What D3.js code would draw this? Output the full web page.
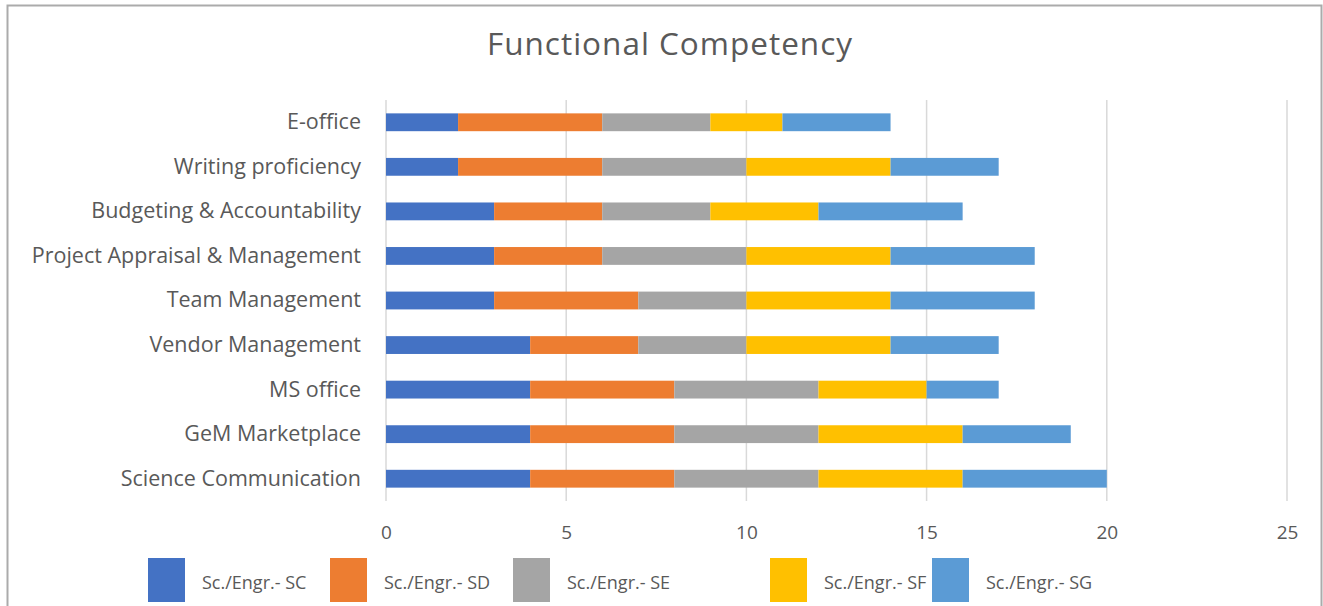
<!DOCTYPE html>
<html>
<head>
<meta charset="utf-8">
<script src="https://cdn.jsdelivr.net/npm/d3@7"></script>
<style>
  html, body { margin: 0; padding: 0; background: #fff; }
  svg { display: block; }
  text { font-family: "Open Sans", "Liberation Sans", sans-serif; }
</style>
</head>
<body>
<svg id="chart" width="1323" height="606"></svg>
<script>
const categories = [
  "E-office",
  "Writing proficiency",
  "Budgeting & Accountability",
  "Project Appraisal & Management",
  "Team Management",
  "Vendor Management",
  "MS office",
  "GeM Marketplace",
  "Science Communication"
];
const seriesNames = ["Sc./Engr.- SC", "Sc./Engr.- SD", "Sc./Engr.- SE", "Sc./Engr.- SF", "Sc./Engr.- SG"];
const SC = [2, 2, 3, 3, 3, 4, 4, 4, 4];
const SD = [4, 4, 3, 3, 4, 3, 4, 4, 4];
const SE = [3, 4, 3, 4, 3, 3, 4, 4, 4];
const SF = [2, 4, 3, 4, 4, 4, 3, 4, 4];
const SG = [3, 3, 4, 4, 4, 3, 2, 3, 4];
const xTicks = [0, 5, 10, 15, 20, 25];
const colors = ["#4472C4", "#ED7D31", "#A5A5A5", "#FFC000", "#5B9BD5"];
const title = "Functional Competency";

const seriesValues = [SC, SD, SE, SF, SG];
const rows = categories.map((c, i) => {
  const r = { category: c };
  seriesNames.forEach((s, j) => r[s] = seriesValues[j][i]);
  return r;
});

const svg = d3.select("#chart");

// outer border
svg.append("rect")
  .attr("x", 7.5).attr("y", 5.5)
  .attr("width", 1314).attr("height", 620)
  .attr("fill", "#fff").attr("stroke", "#ababab").attr("stroke-width", 2);

const plot = { left: 386, right: 1287, top: 100, bottom: 501 };

const x = d3.scaleLinear().domain([0, 25]).range([plot.left, plot.right]);
const y = d3.scaleBand().domain(categories).range([plot.top, plot.bottom]).paddingInner(0.6).paddingOuter(0.3);

// gridlines
svg.append("g").selectAll("line").data(xTicks).join("line")
  .attr("x1", d => x(d)).attr("x2", d => x(d))
  .attr("y1", plot.top).attr("y2", plot.bottom)
  .attr("stroke", "#d9d9d9").attr("stroke-width", 1.5);

// x axis labels
const xAxis = d3.axisBottom(x).tickValues(xTicks).tickSize(0).tickPadding(0).tickFormat(d3.format("d"));
const gx = svg.append("g").attr("transform", `translate(0, 525)`).call(xAxis);
gx.select(".domain").remove();
gx.selectAll("text")
  .attr("font-size", 19).attr("fill", "#595959")
  .style("font-family", "'Open Sans', sans-serif");

// y axis labels
const yAxis = d3.axisLeft(y).tickSize(0).tickPadding(0);
const gy = svg.append("g").attr("transform", `translate(361, 0)`).call(yAxis);
gy.select(".domain").remove();
gy.selectAll("text")
  .attr("font-size", 21.5).attr("fill", "#595959")
  .style("font-family", "'Open Sans', sans-serif");

// stacked bars
const stack = d3.stack().keys(seriesNames);
const stacked = stack(rows);
svg.append("g").selectAll("g").data(stacked).join("g")
  .attr("fill", (d, i) => colors[i])
  .selectAll("rect").data(d => d).join("rect")
  .attr("x", d => x(d[0]))
  .attr("y", d => y(d.data.category))
  .attr("width", d => x(d[1]) - x(d[0]))
  .attr("height", y.bandwidth());

// title
svg.append("text")
  .attr("x", 670).attr("y", 55)
  .attr("text-anchor", "middle")
  .attr("font-size", 31.5).attr("fill", "#595959")
  .attr("letter-spacing", 1)
  .text(title);

// legend
const legendX = [148, 330, 513, 770, 932];
const lg = svg.append("g");
seriesNames.forEach((s, i) => {
  lg.append("rect")
    .attr("x", legendX[i]).attr("y", 558)
    .attr("width", 37).attr("height", 44)
    .attr("fill", colors[i]);
  lg.append("text")
    .attr("x", legendX[i] + 54).attr("y", 584)
    .attr("dominant-baseline", "middle")
    .attr("font-size", 18).attr("fill", "#595959")
    .text(s);
});
</script>
</body>
</html>
